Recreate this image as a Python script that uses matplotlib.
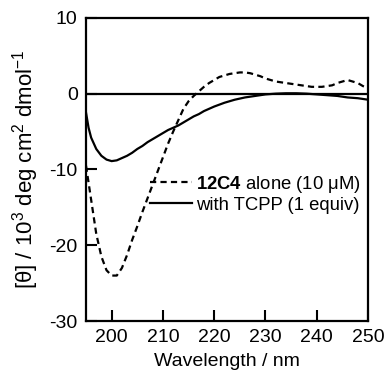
import matplotlib
matplotlib.use("Agg")
from matplotlib import pyplot as plt

plt.rcParams['font.family'] = ['Liberation Sans', 'DejaVu Sans']
plt.rcParams['mathtext.fontset'] = 'custom'
plt.rcParams['mathtext.rm'] = 'Liberation Sans'
plt.rcParams['mathtext.bf'] = 'Liberation Sans:bold'
plt.rcParams['axes.unicode_minus'] = False

# 12C4 alone (10 uM)
wl_a = [195, 196, 197, 198, 199, 200, 201, 202, 203, 204, 205, 206, 207, 208, 209,
        210, 211, 212, 213, 214, 215, 216, 217, 218, 219, 220, 221, 222, 223, 224,
        225, 226, 227, 228, 229, 230, 231, 232, 233, 234, 235, 236, 237, 238, 239,
        240, 241, 242, 243, 244, 245, 246, 247, 248, 249, 250]
cd_a = [-9.5, -14.0, -18.5, -21.5, -23.3, -24.0, -24.0, -23.0, -21.3, -19.3, -17.5,
        -15.6, -13.8, -12.0, -10.2, -8.4, -6.6, -5.0, -3.5, -2.0, -1.0, -0.3, 0.3,
        0.9, 1.4, 1.8, 2.2, 2.4, 2.6, 2.7, 2.8, 2.8, 2.7, 2.5, 2.3, 2.0, 1.8, 1.6,
        1.5, 1.4, 1.3, 1.2, 1.1, 1.0, 0.9, 0.9, 0.9, 1.0, 1.1, 1.4, 1.6, 1.8, 1.6,
        1.4, 1.0, 0.7]

# with TCPP (1 equiv)
wl_b = [195, 195.5, 196, 197, 198, 199, 200, 201, 202, 203, 204, 205, 206, 207, 208,
        209, 210, 211, 212, 213, 214, 215, 216, 217, 218, 219, 220, 222, 224, 226,
        228, 230, 232, 234, 236, 238, 240, 242, 244, 246, 248, 250]
cd_b = [-2.5, -4.5, -5.8, -7.3, -8.2, -8.7, -8.9, -8.8, -8.5, -8.2, -7.8, -7.3, -6.9,
        -6.4, -6.0, -5.6, -5.2, -4.8, -4.5, -4.2, -3.8, -3.4, -3.0, -2.7, -2.3, -2.0,
        -1.7, -1.2, -0.8, -0.5, -0.3, -0.1, 0.0, 0.05, 0.05, 0.0, -0.1, -0.2, -0.3,
        -0.5, -0.6, -0.8]

fig = plt.figure(figsize=(3.85, 3.72), dpi=100)
ax = fig.add_axes([0.2234, 0.137, 0.7326, 0.815])

ax.axhline(0, color='black', lw=1.6)
ax.plot(wl_a, cd_a, color='black', lw=1.6, ls=(0, (2.8, 1.9)), label=r'$\mathbf{12C4}$ alone (10 μM)')
ax.plot(wl_b, cd_b, color='black', lw=1.6, label='with TCPP (1 equiv)')

ax.set_xlim(195, 250)
ax.set_ylim(-30, 10)
ax.set_xticks([200, 210, 220, 230, 240, 250])
ax.set_yticks([-30, -20, -10, 0, 10])
ax.tick_params(direction='in', length=8, width=1.5, labelsize=14, pad=6)
for s in ax.spines.values():
    s.set_linewidth(1.6)

ax.set_xlabel('Wavelength / nm', fontsize=14, labelpad=5)
ax.set_ylabel(r'[θ] / 10$^3$ deg cm$^2$ dmol$^{-1}$', fontsize=16, labelpad=6)

ax.legend(loc='center right', bbox_to_anchor=(1.0, 0.42), frameon=False, fontsize=13.3,
          handlelength=2.3, handletextpad=0.2, labelspacing=0.1, borderaxespad=0.0)

fig.savefig('out.png', dpi=100)
